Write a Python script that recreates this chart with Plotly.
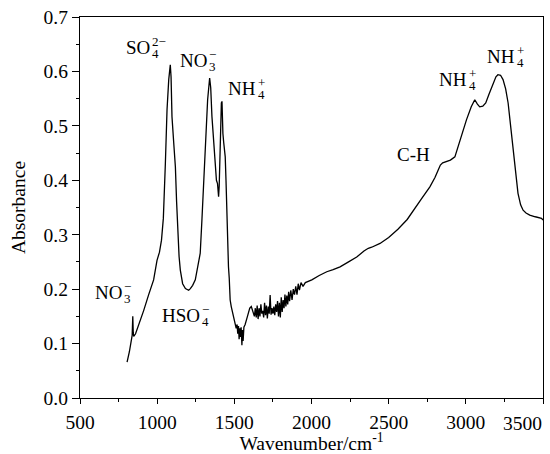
import plotly.graph_objects as go

# ---- data ----
wavenumber = [805, 820, 838, 842, 845, 848, 860, 891, 913, 945, 977, 999, 1015, 1028, 1040, 1053, 1064, 1075, 1085,
              1090, 1096, 1107, 1118, 1126, 1133, 1142, 1150, 1165, 1183, 1194, 1204, 1215, 1230, 1247, 1264, 1279,
              1290, 1301, 1312, 1327, 1340, 1347, 1355, 1366, 1376, 1384, 1391, 1395, 1398, 1402, 1407, 1412, 1416,
              1420, 1423, 1426, 1431, 1436, 1441, 1446, 1452, 1457, 1462, 1467, 1473, 1480, 1487, 1495,
              1505, 1512, 1518, 1522, 1527, 1531, 1536, 1540, 1544, 1549, 1553, 1557, 1562, 1570, 1585, 1600, 1610,
              1620, 1630, 1636, 1642, 1648, 1654, 1660, 1666, 1672, 1678, 1684, 1690, 1696, 1702, 1708, 1714, 1720,
              1726, 1732, 1738, 1744, 1750, 1756, 1762, 1768, 1774, 1780, 1786, 1792, 1798, 1804, 1810, 1816, 1822,
              1828, 1834, 1840, 1846, 1852, 1858, 1866, 1874, 1882, 1890, 1898, 1906, 1914, 1922, 1932, 1945, 1960,
              2002, 2050, 2099, 2140, 2185, 2240, 2293, 2340, 2368, 2390, 2444, 2500, 2560, 2620, 2659, 2710, 2767,
              2800, 2821, 2835, 2850, 2870, 2900, 2929, 2961, 3004, 3035, 3058, 3075, 3090, 3110, 3129, 3150, 3176,
              3195, 3208, 3225, 3241, 3258, 3274, 3290, 3306, 3322, 3338, 3355, 3371, 3390, 3414, 3450, 3490, 3500]
absorbance = [0.066, 0.085, 0.115, 0.150, 0.120, 0.113, 0.118, 0.142, 0.161, 0.190, 0.217, 0.253, 0.268, 0.290,
              0.330, 0.430, 0.530, 0.585, 0.612, 0.590, 0.517, 0.470, 0.425, 0.360, 0.310, 0.260, 0.235, 0.210,
              0.201, 0.199, 0.198, 0.201, 0.207, 0.217, 0.240, 0.266, 0.327, 0.390, 0.456, 0.548, 0.588, 0.570,
              0.517, 0.470, 0.425, 0.400, 0.394, 0.380, 0.370, 0.390, 0.450, 0.500, 0.542, 0.545, 0.500, 0.486,
              0.470, 0.455, 0.443, 0.400, 0.315, 0.300, 0.241, 0.220, 0.180, 0.168, 0.160, 0.152,
              0.140, 0.128, 0.135, 0.118, 0.132, 0.108, 0.128, 0.112, 0.130, 0.097, 0.125, 0.105, 0.130, 0.135,
              0.150, 0.165, 0.168, 0.158, 0.150, 0.165, 0.148, 0.170, 0.145, 0.165, 0.150, 0.172, 0.155, 0.160,
              0.148, 0.175, 0.152, 0.170, 0.146, 0.168, 0.155, 0.189, 0.153, 0.165, 0.155, 0.168, 0.152, 0.172,
              0.158, 0.178, 0.150, 0.175, 0.148, 0.185, 0.158, 0.180, 0.165, 0.190, 0.168, 0.188, 0.172, 0.195,
              0.178, 0.198, 0.180, 0.200, 0.190, 0.205, 0.190, 0.210, 0.198, 0.212, 0.205, 0.212,
              0.217, 0.225, 0.232, 0.236, 0.241, 0.250, 0.259, 0.270, 0.275, 0.277, 0.284, 0.295, 0.310, 0.328,
              0.345, 0.365, 0.388, 0.405, 0.419, 0.428, 0.432, 0.434, 0.437, 0.443, 0.474, 0.511, 0.535, 0.548,
              0.540, 0.535, 0.536, 0.542, 0.558, 0.578, 0.590, 0.594, 0.593, 0.585, 0.568, 0.542, 0.500, 0.456,
              0.412, 0.376, 0.355, 0.345, 0.340, 0.336, 0.333, 0.330, 0.327]

# labels: base text, subscript, superscript, x of base right edge, y centre
label_base = ["SO", "NO", "NH", "NO", "HSO", "NH", "NH"]
label_sub = ["4", "3", "4", "3", "4", "4", "4"]
label_sup = ["2−", "−", "+", "−", "−", "+", "+"]
label_x = [956, 1323, 1642, 773, 1279, 3005, 3321]
label_y = [0.6445, 0.621, 0.569, 0.1945, 0.152, 0.585, 0.628]

plain_text = ["C-H"]
plain_x = [2664]
plain_y = [0.4475]

x_ticks = [500, 1000, 1500, 2000, 2500, 3000, 3500]
y_ticks = [0.0, 0.1, 0.2, 0.3, 0.4, 0.5, 0.6, 0.7]

FONT = "Liberation Serif, Times New Roman, serif"
FS = 19.5

fig = go.Figure()
fig.add_trace(go.Scatter(x=wavenumber, y=absorbance, mode="lines",
                         line=dict(color="black", width=1.3), showlegend=False,
                         hoverinfo="skip"))

anns = []
for b, sb, sp, xx, yy in zip(label_base, label_sub, label_sup, label_x, label_y):
    anns.append(dict(x=xx, y=yy, text=b, xanchor="right", yanchor="middle", xshift=2,
                     showarrow=False, font=dict(size=19, family=FONT, color="black")))
    anns.append(dict(x=xx, y=yy, text=sp, xanchor="left", yanchor="middle", xshift=0, yshift=6,
                     showarrow=False, font=dict(size=13, family=FONT, color="black")))
    anns.append(dict(x=xx, y=yy, text=sb, xanchor="left", yanchor="middle", xshift=0, yshift=-6,
                     showarrow=False, font=dict(size=13, family=FONT, color="black")))
for t, xx, yy in zip(plain_text, plain_x, plain_y):
    anns.append(dict(x=xx, y=yy, text=t, xanchor="center", yanchor="middle",
                     showarrow=False, font=dict(size=19, family=FONT, color="black")))

# last x tick label sits left of its tick so it stays inside the figure
x_ticktext = [str(v) for v in x_ticks]
x_ticktext[-1] = ""
anns.append(dict(x=x_ticks[-1], y=0, xref="x", yref="y", text=str(x_ticks[-1]),
                 xanchor="right", yanchor="top", xshift=1, yshift=-13,
                 showarrow=False, font=dict(size=FS, family=FONT, color="black")))

fig.update_layout(
    width=550, height=454,
    margin=dict(l=79.5, r=6.7, t=17.3, b=56.3, autoexpand=False),
    paper_bgcolor="white", plot_bgcolor="white",
    font=dict(family=FONT, size=FS, color="black"),
    annotations=anns,
    xaxis=dict(range=[500, 3500], tickvals=x_ticks, ticktext=x_ticktext,
               ticks="outside", ticklen=5, tickwidth=1.2, tickcolor="black",
               minor=dict(dtick=250, tick0=500, ticks="outside", ticklen=3, tickwidth=1, tickcolor="black"),
               showline=True, linecolor="black", linewidth=1.3, mirror=True, showgrid=False, zeroline=False,
               automargin=False, ticklabelstandoff=1, ticklabeloverflow="allow",
               title=dict(text="Wavenumber/cm<sup>-1</sup>", font=dict(size=FS, family=FONT), standoff=2),
               tickfont=dict(size=FS, family=FONT)),
    yaxis=dict(range=[0, 0.7], tickvals=y_ticks, ticktext=[f"{v:.1f}" for v in y_ticks],
               ticks="outside", ticklen=7, tickwidth=1.2, tickcolor="black",
               minor=dict(dtick=0.05, tick0=0, ticks="outside", ticklen=3, tickwidth=1, tickcolor="black"),
               showline=True, linecolor="black", linewidth=1.3, mirror=True, showgrid=False, zeroline=False,
               automargin=False, ticklabeloverflow="allow",
               title=dict(text="Absorbance", font=dict(size=FS, family=FONT), standoff=12),
               tickfont=dict(size=FS, family=FONT)),
)

fig.write_html("out.html", config={"displayModeBar": False},
               post_script="document.body.style.margin='0';")
